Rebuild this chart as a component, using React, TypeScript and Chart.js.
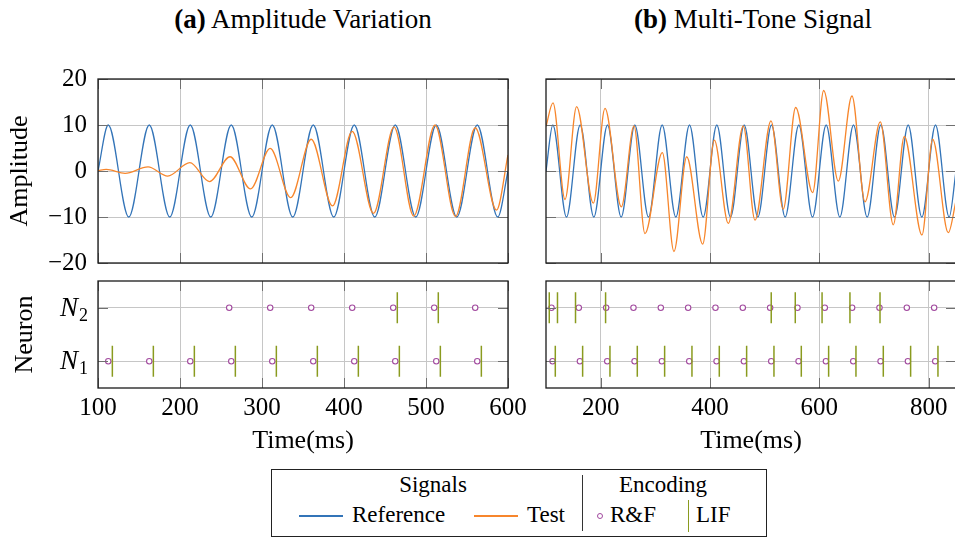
import React, { useEffect, useRef } from 'react';
import { Chart, registerables } from 'chart.js';

Chart.register(...registerables);

const SERIF = '"Liberation Serif", "Times New Roman", serif';
const BLUE = '#3374b8';
const ORANGE = '#f7862c';
const PURPLE = '#a24a9f';
const OLIVE = '#8a9b1f';
const GRID = '#c6c6c6';
const TICKC = '#707070';

// ---------- axis ticks ----------
const timeTicksA = [100, 200, 300, 400, 500, 600];
const timeTicksB = [200, 400, 600, 800];
const ampTicks = [-20, -10, 0, 10, 20];
const neuronTicks = [1, 2];
const neuronSubs = ['1', '2'];

// ---------- (a) Amplitude Variation : extrema of each trace ----------
const refTimesA = [100, 112.5, 137.5, 162.5, 187.5, 212.5, 237.5, 262.5, 287.5, 312.5, 337.5, 362.5, 387.5, 412.5, 437.5, 462.5, 487.5, 512.5, 537.5, 562.5, 587.5, 600];
const refValsA = [0, 10, -10, 10, -10, 10, -10, 10, -10, 10, -10, 10, -10, 10, -10, 10, -10, 10, -10, 10, -10, 0];
const testTimesA = [100, 110, 133, 161, 185, 212, 236, 261, 286, 310, 335, 360, 386, 410, 436, 461, 485, 511, 536, 560, 586, 600];
const testValsA = [0.1, 0.35, -0.5, 0.9, -1.1, 1.8, -2.3, 3.1, -3.9, 4.9, -5.8, 6.9, -7.6, 8.6, -9.2, 9.6, -9.8, 10, -9.9, 9.4, -8.5, 3.5];

// ---------- (b) Multi-Tone Signal ----------
const refTimesB = [100, 112.5, 137.5, 162.5, 187.5, 212.5, 237.5, 262.5, 287.5, 312.5, 337.5, 362.5, 387.5, 412.5, 437.5, 462.5, 487.5, 512.5, 537.5, 562.5, 587.5, 612.5, 637.5, 662.5, 687.5, 712.5, 737.5, 762.5, 787.5, 812.5, 837.5, 850];
const refValsB = [0, 10, -10, 10, -10, 10, -10, 10, -10, 10, -10, 10, -10, 10, -10, 10, -10, 10, -10, 10, -10, 10, -10, 10, -10, 10, -10, 10, -10, 10, -10, 0];
const testTimesB = [100, 112.8, 134.8, 156, 186.6, 207.9, 237.8, 261, 281, 312.8, 334.1, 357.4, 386.6, 407.9, 433.5, 460.9, 482.3, 511.6, 534, 556.7, 587.8, 608, 634.7, 659.7, 683.5, 711.5, 735.3, 755.4, 787.8, 807.3, 835.9, 850];
const testValsB = [9.7, 14.8, -6.2, 14.0, -7.0, 13.6, -7.8, 9.8, -13.6, 4.0, -17.5, 3.1, -15.9, 6.7, -11.4, 9.8, -10.7, 10.9, -8.3, 13.8, -4.7, 17.5, -2.2, 16.3, -6.7, 10.7, -11.7, 7.5, -13.9, 6.9, -13.4, -6.5];

// ---------- spike times (ms) ----------
const rfN1A = [112.5, 162.5, 212.5, 262.5, 312.5, 362.5, 412.5, 462.5, 512.5, 562.5];
const lifN1A = [117.5, 167.5, 217.5, 267.5, 317.5, 367.5, 417.5, 467.5, 517.5, 567.5];
const rfN2A = [260, 310, 360, 410, 460, 510, 560];
const lifN2A = [465, 515];
const rfN1B = [112, 162, 212, 262, 312, 362, 412, 462, 512, 562, 612, 662, 712, 762, 812];
const lifN1B = [117, 167, 217, 267, 317, 367, 417, 467, 517, 567, 617, 667, 717, 767, 817];
const rfN2B = [110, 160, 210, 260, 310, 360, 410, 460, 510, 560, 610, 660, 710, 760, 810];
const lifN2B = [106, 121, 154, 209, 512, 556, 605, 656, 711];

const pts = (xs: number[], ys: number[]) => xs.map((x, i) => ({ x, y: ys[i] }));
const spikes = (ts: number[], n: number) => ts.map((t) => ({ x: t, y: n }));

const framePlugin = {
  id: 'frame',
  afterDraw(chart: any) {
    const { ctx, chartArea: a, scales } = chart;
    const L = 10;
    ctx.save();
    ctx.strokeStyle = TICKC;
    ctx.lineWidth = 1;
    ctx.beginPath();
    for (const t of scales.x.ticks) {
      const px = Math.round(scales.x.getPixelForValue(t.value)) + 0.5;
      ctx.moveTo(px, a.bottom);
      ctx.lineTo(px, a.bottom - L);
      ctx.moveTo(px, a.top);
      ctx.lineTo(px, a.top + L);
    }
    for (const t of scales.y.ticks) {
      const py = Math.round(scales.y.getPixelForValue(t.value)) + 0.5;
      ctx.moveTo(a.left, py);
      ctx.lineTo(a.left + L, py);
      ctx.moveTo(a.right, py);
      ctx.lineTo(a.right - L, py);
    }
    ctx.stroke();
    ctx.strokeStyle = '#1a1a1a';
    ctx.lineWidth = 1.3;
    ctx.strokeRect(a.left, a.top, a.right - a.left, a.bottom - a.top);
    ctx.restore();
  },
};

const neuronLabelPlugin = {
  id: 'neuronLabels',
  afterDraw(chart: any) {
    const { ctx, scales } = chart;
    const right = chart.chartArea.left - 11;
    ctx.save();
    ctx.fillStyle = '#000';
    ctx.textBaseline = 'alphabetic';
    ctx.textAlign = 'left';
    neuronTicks.forEach((v, i) => {
      const py = scales.y.getPixelForValue(v);
      ctx.font = `italic 27px ${SERIF}`;
      const wN = ctx.measureText('N').width;
      ctx.font = `18px ${SERIF}`;
      const wS = ctx.measureText(neuronSubs[i]).width;
      const base = py + 8;
      ctx.font = `italic 27px ${SERIF}`;
      ctx.fillText('N', right - wS - wN, base);
      ctx.font = `18px ${SERIF}`;
      ctx.fillText(neuronSubs[i], right - wS + 1, base + 5);
    });
    ctx.restore();
  },
};

const noPad = (s: any) => {
  s.paddingTop = 0;
  s.paddingBottom = 0;
  s.paddingLeft = 0;
  s.paddingRight = 0;
};

function xAxis(ticks: number[], min: number, max: number, labels: boolean) {
  return {
    type: 'linear',
    min,
    max,
    afterBuildTicks: (s: any) => {
      s.ticks = ticks.map((v) => ({ value: v }));
    },
    afterFit: (s: any) => {
      s.height = labels ? 77 : 0;
      noPad(s);
    },
    grid: { color: GRID, drawTicks: false, lineWidth: 1 },
    border: { display: false },
    ticks: {
      display: labels,
      color: '#000',
      font: { family: SERIF, size: 25 },
      padding: 5,
      maxRotation: 0,
      autoSkip: false,
      callback: (v: number) => String(v),
    },
    title: {
      display: labels,
      text: 'Time(ms)',
      color: '#000',
      font: { family: SERIF, size: 26 },
      padding: { top: 0, bottom: 8 },
    },
  };
}

function ampAxis(labels: boolean) {
  return {
    type: 'linear',
    min: -20,
    max: 20,
    afterBuildTicks: (s: any) => {
      s.ticks = ampTicks.map((v) => ({ value: v }));
    },
    afterFit: (s: any) => {
      s.width = labels ? 98 : 0;
      noPad(s);
    },
    grid: { color: GRID, drawTicks: false, lineWidth: 1 },
    border: { display: false },
    ticks: {
      display: labels,
      color: '#000',
      font: { family: SERIF, size: 25 },
      padding: 11,
      callback: (v: number) => (v < 0 ? '\u2212' + Math.abs(v) : String(v)),
    },
    title: {
      display: labels,
      text: 'Amplitude',
      color: '#000',
      font: { family: SERIF, size: 26 },
      padding: { top: 5, bottom: 0 },
    },
  };
}

function neuronAxis(labels: boolean) {
  return {
    type: 'linear',
    min: 0.5,
    max: 2.5,
    afterBuildTicks: (s: any) => {
      s.ticks = neuronTicks.map((v) => ({ value: v }));
    },
    afterFit: (s: any) => {
      s.width = labels ? 98 : 0;
      noPad(s);
    },
    grid: { color: GRID, drawTicks: false, lineWidth: 1 },
    border: { display: false },
    ticks: { display: false },
    title: {
      display: labels,
      text: 'Neuron',
      color: '#000',
      font: { family: SERIF, size: 26 },
      padding: { top: 10, bottom: 0 },
    },
  };
}

const baseOptions = (padding: any) => ({
  animation: false,
  responsive: false,
  devicePixelRatio: 1,
  events: [],
  layout: { padding, autoPadding: false },
  plugins: { legend: { display: false }, tooltip: { enabled: false }, title: { display: false } },
});

function signalConfig(
  refT: number[], refV: number[], testT: number[], testV: number[],
  ticks: number[], max: number, labels: boolean, padding: any
) {
  const line = { pointRadius: 0, borderWidth: 1.3, cubicInterpolationMode: 'monotone', fill: false };
  return {
    type: 'line',
    data: {
      datasets: [
        { label: 'Test', data: pts(testT, testV), borderColor: ORANGE, order: 0, ...line },
        { label: 'Reference', data: pts(refT, refV), borderColor: BLUE, order: 1, ...line },
      ],
    },
    options: {
      ...baseOptions(padding),
      scales: { x: xAxis(ticks, 100, max, false), y: ampAxis(labels) },
    },
    plugins: [framePlugin],
  };
}

function spikeConfig(
  lif1: number[], lif2: number[], rf1: number[], rf2: number[],
  ticks: number[], max: number, labels: boolean, padding: any
) {
  const lif = {
    showLine: false,
    pointStyle: 'line',
    pointRotation: 90,
    pointRadius: 15.5,
    pointBorderColor: OLIVE,
    pointBorderWidth: 1.5,
  };
  const rf = {
    showLine: false,
    pointStyle: 'circle',
    pointRadius: 2.7,
    pointBorderColor: PURPLE,
    pointBackgroundColor: '#ffffff',
    pointBorderWidth: 1.1,
  };
  return {
    type: 'scatter',
    data: {
      datasets: [
        { label: 'LIF N1', data: spikes(lif1, 1), ...lif },
        { label: 'LIF N2', data: spikes(lif2, 2), ...lif },
        { label: 'R&F N1', data: spikes(rf1, 1), ...rf },
        { label: 'R&F N2', data: spikes(rf2, 2), ...rf },
      ],
    },
    options: {
      ...baseOptions(padding),
      scales: { x: xAxis(ticks, 100, max, true), y: neuronAxis(labels) },
    },
    plugins: labels ? [framePlugin, neuronLabelPlugin] : [framePlugin],
  };
}

function ChartCanvas(props: { left: number; top: number; width: number; height: number; make: () => any }) {
  const ref = useRef<HTMLCanvasElement>(null);
  useEffect(() => {
    const chart = new Chart(ref.current as HTMLCanvasElement, props.make());
    return () => chart.destroy();
  }, []);
  const { left, top, width, height } = props;
  return (
    <canvas
      ref={ref}
      width={width}
      height={height}
      style={{ position: 'absolute', left, top, width, height, display: 'block' }}
    />
  );
}

const abs = (extra: any): any => ({ position: 'absolute', whiteSpace: 'nowrap', ...extra });

export default function App() {
  return (
    <div
      style={{
        position: 'absolute',
        left: 0,
        top: 0,
        width: 955,
        height: 538,
        overflow: 'hidden',
        background: '#fff',
        fontFamily: SERIF,
        color: '#000',
      }}
    >
      <div style={abs({ left: 303, top: 3, transform: 'translateX(-50%)', fontSize: 27, lineHeight: '32px' })}>
        <b>(a)</b> Amplitude Variation
      </div>
      <div style={abs({ left: 753, top: 3, transform: 'translateX(-50%)', fontSize: 27, lineHeight: '32px' })}>
        <b>(b)</b> Multi-Tone Signal
      </div>

      <ChartCanvas
        left={0} top={60} width={530} height={220}
        make={() => signalConfig(refTimesA, refValsA, testTimesA, testValsA, timeTicksA, 600, true, { top: 19, right: 22, bottom: 17, left: 0 })}
      />
      <ChartCanvas
        left={530} top={60} width={440} height={220}
        make={() => signalConfig(refTimesB, refValsB, testTimesB, testValsB, timeTicksB, 850, false, { top: 19, right: 14, bottom: 17, left: 16 })}
      />
      <ChartCanvas
        left={0} top={275} width={530} height={190}
        make={() => spikeConfig(lifN1A, lifN2A, rfN1A, rfN2A, timeTicksA, 600, true, { top: 6, right: 22, bottom: 0, left: 0 })}
      />
      <ChartCanvas
        left={530} top={275} width={440} height={190}
        make={() => spikeConfig(lifN1B, lifN2B, rfN1B, rfN2B, timeTicksB, 850, false, { top: 6, right: 14, bottom: 0, left: 16 })}
      />

      {/* legend */}
      <div style={abs({ left: 271, top: 469, width: 494, height: 66, border: '1.3px solid #222' })} />
      <div style={abs({ left: 433, top: 470, transform: 'translateX(-50%)', fontSize: 23, lineHeight: '30px' })}>Signals</div>
      <div style={abs({ left: 663, top: 470, transform: 'translateX(-50%)', fontSize: 23, lineHeight: '30px' })}>Encoding</div>
      <div style={abs({ left: 581.5, top: 475, width: 1.5, height: 56, background: '#333' })} />
      <div style={abs({ left: 299, top: 515, width: 44, height: 1.5, background: BLUE })} />
      <div style={abs({ left: 352, top: 500, fontSize: 23, lineHeight: '30px' })}>Reference</div>
      <div style={abs({ left: 474, top: 515, width: 44, height: 1.5, background: ORANGE })} />
      <div style={abs({ left: 527, top: 500, fontSize: 23, lineHeight: '30px' })}>Test</div>
      <div
        style={abs({
          left: 596.5, top: 513, width: 4, height: 4, borderRadius: '50%', border: `1.1px solid ${PURPLE}`,
        })}
      />
      <div style={abs({ left: 610, top: 500, fontSize: 23, lineHeight: '30px' })}>R&amp;F</div>
      <div style={abs({ left: 687.5, top: 500, width: 1.5, height: 32, background: OLIVE })} />
      <div style={abs({ left: 696, top: 500, fontSize: 23, lineHeight: '30px' })}>LIF</div>
    </div>
  );
}
